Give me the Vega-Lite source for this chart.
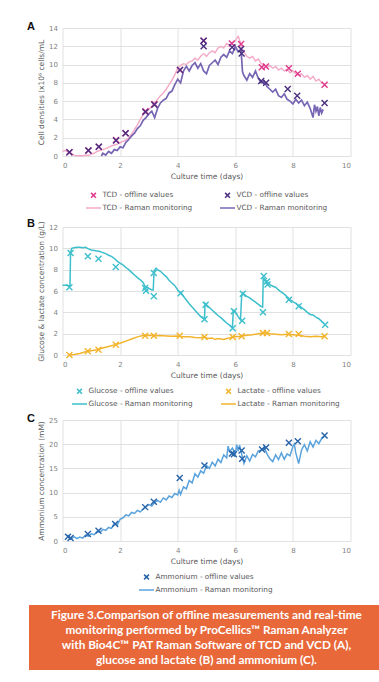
{
  "$schema": "https://vega.github.io/schema/vega-lite/v6.json",
  "background": "white",
  "padding": {"left": 12, "right": 12, "top": 21, "bottom": 5},
  "spacing": 5,
  "center": true,
  "resolve": {"scale": {"color": "independent", "shape": "independent"}, "legend": {"color": "independent", "shape": "independent"}},
  "config": {
    "font": "DejaVu Sans",
    "view": {"stroke": null},
    "axis": {"labelFontSize": 7, "labelColor": "#7f7f7f", "titleFontSize": 7.5, "titleColor": "#595959", "titleFontWeight": "normal", "gridColor": "#d9d9d9", "gridWidth": 0.8, "domain": false, "ticks": false, "labelPadding": 5, "titlePadding": 4},
    "axisY": {"titlePadding": 3, "titleLineHeight": 8.5},
    "legend": {"orient": "bottom", "direction": "horizontal", "columns": 2, "title": null, "symbolSize": 144, "symbolStrokeWidth": 1.5, "labelFontSize": 7.3, "labelColor": "#595959", "rowPadding": 0, "columnPadding": 24, "labelOffset": 2, "offset": 8, "layout": {"bottom": {"anchor": "middle"}}},
    "title": {"anchor": "start", "frame": "bounds", "fontSize": 11, "fontWeight": "bold", "font": "Liberation Sans", "color": "#111111", "offset": -8, "dx": 15}
  },
  "datasets": {
    "tcdR": [{"t":0,"v":0.5},{"t":0.1,"v":0.6},{"t":0.2,"v":0.4},{"t":0.3,"v":0.3},{"t":0.4,"v":0.1},{"t":0.5,"v":0.0},{"t":0.6,"v":0.05},{"t":0.7,"v":0.0},{"t":0.8,"v":0.1},{"t":0.9,"v":0.05},{"t":1.0,"v":0.2},{"t":1.1,"v":0.3},{"t":1.2,"v":0.5},{"t":1.3,"v":0.6},{"t":1.4,"v":0.7},{"t":1.5,"v":0.8},{"t":1.6,"v":0.95},{"t":1.7,"v":1.1},{"t":1.8,"v":1.2},{"t":1.9,"v":1.3},{"t":2.0,"v":1.45},{"t":2.1,"v":1.6},{"t":2.2,"v":1.75},{"t":2.3,"v":2.0},{"t":2.4,"v":2.4},{"t":2.5,"v":2.9},{"t":2.6,"v":3.4},{"t":2.7,"v":4.0},{"t":2.8,"v":4.5},{"t":2.9,"v":4.8},{"t":3.0,"v":5.1},{"t":3.1,"v":5.4},{"t":3.2,"v":5.8},{"t":3.3,"v":6.2},{"t":3.4,"v":6.6},{"t":3.5,"v":6.9},{"t":3.6,"v":7.3},{"t":3.7,"v":7.8},{"t":3.8,"v":8.3},{"t":3.9,"v":8.9},{"t":4.0,"v":9.6},{"t":4.1,"v":9.9},{"t":4.2,"v":10.1},{"t":4.3,"v":10.0},{"t":4.4,"v":10.3},{"t":4.5,"v":10.4},{"t":4.6,"v":10.7},{"t":4.7,"v":10.5},{"t":4.8,"v":10.9},{"t":4.9,"v":11.2},{"t":5.0,"v":10.9},{"t":5.1,"v":11.3},{"t":5.2,"v":11.5},{"t":5.3,"v":11.3},{"t":5.4,"v":11.8},{"t":5.5,"v":12.0},{"t":5.6,"v":11.8},{"t":5.7,"v":12.3},{"t":5.8,"v":12.1},{"t":5.9,"v":12.4},{"t":6.0,"v":12.6},{"t":6.1,"v":13.1},{"t":6.15,"v":12.7},{"t":6.2,"v":12.0},{"t":6.3,"v":11.4},{"t":6.4,"v":10.9},{"t":6.5,"v":10.7},{"t":6.6,"v":10.9},{"t":6.7,"v":10.4},{"t":6.8,"v":10.6},{"t":6.9,"v":10.1},{"t":7.0,"v":10.0},{"t":7.1,"v":9.7},{"t":7.2,"v":9.9},{"t":7.3,"v":9.6},{"t":7.4,"v":9.8},{"t":7.5,"v":9.4},{"t":7.6,"v":9.6},{"t":7.7,"v":9.3},{"t":7.8,"v":9.5},{"t":7.9,"v":9.1},{"t":8.0,"v":9.3},{"t":8.1,"v":9.0},{"t":8.2,"v":8.8},{"t":8.3,"v":9.0},{"t":8.4,"v":8.6},{"t":8.5,"v":8.8},{"t":8.6,"v":8.4},{"t":8.7,"v":8.7},{"t":8.8,"v":8.2},{"t":8.9,"v":8.4},{"t":9.0,"v":8.0},{"t":9.05,"v":8.1}],
    "vcdR": [{"t":1.35,"v":0.0},{"t":1.4,"v":0.3},{"t":1.5,"v":0.1},{"t":1.6,"v":0.5},{"t":1.7,"v":0.3},{"t":1.8,"v":0.7},{"t":1.9,"v":0.6},{"t":2.0,"v":1.0},{"t":2.1,"v":0.9},{"t":2.2,"v":1.5},{"t":2.3,"v":1.8},{"t":2.4,"v":2.2},{"t":2.5,"v":2.5},{"t":2.6,"v":3.0},{"t":2.7,"v":3.3},{"t":2.8,"v":3.9},{"t":2.9,"v":4.2},{"t":3.0,"v":4.6},{"t":3.1,"v":4.9},{"t":3.2,"v":4.2},{"t":3.3,"v":5.2},{"t":3.4,"v":5.8},{"t":3.5,"v":6.1},{"t":3.6,"v":6.3},{"t":3.7,"v":6.9},{"t":3.8,"v":7.1},{"t":3.9,"v":7.8},{"t":4.0,"v":8.4},{"t":4.1,"v":8.0},{"t":4.2,"v":9.3},{"t":4.3,"v":9.8},{"t":4.4,"v":9.3},{"t":4.5,"v":9.9},{"t":4.6,"v":10.2},{"t":4.7,"v":9.6},{"t":4.8,"v":10.1},{"t":4.9,"v":9.3},{"t":5.0,"v":9.0},{"t":5.1,"v":9.9},{"t":5.2,"v":10.2},{"t":5.3,"v":10.5},{"t":5.4,"v":10.0},{"t":5.5,"v":10.8},{"t":5.6,"v":11.1},{"t":5.7,"v":10.8},{"t":5.8,"v":11.5},{"t":5.9,"v":11.2},{"t":6.0,"v":12.0},{"t":6.1,"v":11.4},{"t":6.2,"v":11.6},{"t":6.25,"v":9.2},{"t":6.3,"v":8.8},{"t":6.4,"v":8.3},{"t":6.5,"v":9.0},{"t":6.6,"v":8.6},{"t":6.7,"v":9.3},{"t":6.8,"v":8.5},{"t":6.9,"v":8.0},{"t":7.0,"v":8.2},{"t":7.1,"v":7.6},{"t":7.2,"v":7.3},{"t":7.3,"v":7.0},{"t":7.4,"v":7.3},{"t":7.5,"v":6.6},{"t":7.6,"v":6.4},{"t":7.7,"v":6.8},{"t":7.8,"v":6.2},{"t":7.9,"v":6.0},{"t":8.0,"v":5.7},{"t":8.1,"v":6.2},{"t":8.2,"v":5.8},{"t":8.3,"v":6.1},{"t":8.4,"v":5.5},{"t":8.5,"v":5.9},{"t":8.6,"v":5.2},{"t":8.7,"v":4.2},{"t":8.75,"v":5.6},{"t":8.8,"v":4.9},{"t":8.85,"v":5.4},{"t":8.9,"v":4.4},{"t":8.95,"v":5.3},{"t":9.0,"v":4.7},{"t":9.05,"v":5.1}],
    "tcdO": [{"t":0.24,"v":0.4},{"t":0.9,"v":0.6},{"t":1.26,"v":1.0},{"t":1.86,"v":1.75},{"t":2.19,"v":2.5},{"t":2.88,"v":4.9},{"t":3.19,"v":5.7},{"t":4.08,"v":9.4},{"t":4.9,"v":12.6},{"t":5.88,"v":12.3},{"t":6.2,"v":12.25},{"t":6.92,"v":9.7},{"t":7.06,"v":9.8},{"t":7.86,"v":9.6},{"t":8.17,"v":9.0},{"t":9.1,"v":7.8}],
    "vcdO": [{"t":0.24,"v":0.4},{"t":0.9,"v":0.6},{"t":1.26,"v":1.0},{"t":1.86,"v":1.7},{"t":2.19,"v":2.5},{"t":2.88,"v":4.8},{"t":3.19,"v":5.6},{"t":4.08,"v":9.4},{"t":4.9,"v":12.6},{"t":4.9,"v":12.0},{"t":5.89,"v":11.9},{"t":6.2,"v":11.7},{"t":6.22,"v":11.2},{"t":6.9,"v":8.2},{"t":7.07,"v":8.0},{"t":7.82,"v":7.33},{"t":8.15,"v":6.6},{"t":9.1,"v":5.8}],
    "gluR": [{"t":0,"v":6.55},{"t":0.1,"v":6.55},{"t":0.2,"v":6.5},{"t":0.26,"v":6.5},{"t":0.28,"v":9.6},{"t":0.32,"v":10.0},{"t":0.4,"v":10.05},{"t":0.5,"v":10.1},{"t":0.6,"v":10.1},{"t":0.7,"v":10.05},{"t":0.8,"v":10.1},{"t":0.9,"v":9.95},{"t":1.0,"v":9.85},{"t":1.1,"v":9.8},{"t":1.2,"v":9.75},{"t":1.3,"v":9.7},{"t":1.4,"v":9.6},{"t":1.5,"v":9.5},{"t":1.6,"v":9.35},{"t":1.7,"v":9.25},{"t":1.8,"v":9.05},{"t":1.9,"v":8.8},{"t":2.0,"v":8.6},{"t":2.1,"v":8.45},{"t":2.2,"v":8.2},{"t":2.3,"v":8.0},{"t":2.4,"v":7.75},{"t":2.5,"v":7.5},{"t":2.6,"v":7.25},{"t":2.7,"v":7.05},{"t":2.8,"v":6.8},{"t":2.85,"v":6.5},{"t":2.9,"v":6.4},{"t":3.0,"v":6.25},{"t":3.1,"v":6.1},{"t":3.15,"v":6.1},{"t":3.18,"v":7.9},{"t":3.25,"v":8.15},{"t":3.3,"v":8.0},{"t":3.4,"v":7.85},{"t":3.5,"v":7.6},{"t":3.6,"v":7.35},{"t":3.7,"v":7.0},{"t":3.8,"v":6.75},{"t":3.9,"v":6.5},{"t":4.0,"v":6.1},{"t":4.1,"v":5.85},{"t":4.2,"v":5.5},{"t":4.3,"v":5.15},{"t":4.4,"v":4.8},{"t":4.5,"v":4.5},{"t":4.6,"v":4.2},{"t":4.7,"v":3.9},{"t":4.8,"v":3.6},{"t":4.9,"v":3.4},{"t":4.93,"v":3.35},{"t":4.95,"v":4.85},{"t":5.0,"v":4.7},{"t":5.1,"v":4.45},{"t":5.2,"v":4.2},{"t":5.3,"v":3.95},{"t":5.4,"v":3.7},{"t":5.5,"v":3.5},{"t":5.6,"v":3.25},{"t":5.7,"v":3.0},{"t":5.8,"v":2.8},{"t":5.9,"v":2.55},{"t":5.93,"v":4.2},{"t":6.0,"v":4.05},{"t":6.1,"v":3.6},{"t":6.18,"v":3.3},{"t":6.22,"v":5.5},{"t":6.26,"v":5.8},{"t":6.3,"v":5.7},{"t":6.4,"v":5.5},{"t":6.5,"v":5.35},{"t":6.6,"v":5.15},{"t":6.7,"v":4.95},{"t":6.8,"v":4.75},{"t":6.9,"v":4.55},{"t":6.95,"v":4.5},{"t":6.97,"v":7.2},{"t":7.0,"v":7.1},{"t":7.1,"v":6.75},{"t":7.2,"v":6.6},{"t":7.3,"v":6.45},{"t":7.4,"v":6.35},{"t":7.5,"v":6.1},{"t":7.6,"v":5.9},{"t":7.7,"v":5.7},{"t":7.8,"v":5.45},{"t":7.9,"v":5.2},{"t":8.0,"v":5.0},{"t":8.1,"v":4.85},{"t":8.2,"v":4.65},{"t":8.3,"v":4.45},{"t":8.4,"v":4.25},{"t":8.5,"v":4.0},{"t":8.6,"v":3.8},{"t":8.7,"v":3.75},{"t":8.8,"v":3.55},{"t":8.9,"v":3.4},{"t":9.0,"v":3.15},{"t":9.1,"v":2.9}],
    "lacR": [{"t":0.24,"v":0.0},{"t":0.4,"v":0.05},{"t":0.6,"v":0.15},{"t":0.8,"v":0.3},{"t":1.0,"v":0.4},{"t":1.2,"v":0.5},{"t":1.4,"v":0.65},{"t":1.6,"v":0.8},{"t":1.8,"v":0.95},{"t":2.0,"v":1.1},{"t":2.2,"v":1.3},{"t":2.4,"v":1.5},{"t":2.6,"v":1.7},{"t":2.8,"v":1.82},{"t":3.0,"v":1.85},{"t":3.2,"v":1.8},{"t":3.4,"v":1.82},{"t":3.6,"v":1.78},{"t":3.8,"v":1.75},{"t":4.0,"v":1.78},{"t":4.2,"v":1.72},{"t":4.4,"v":1.7},{"t":4.6,"v":1.65},{"t":4.8,"v":1.62},{"t":4.9,"v":1.7},{"t":5.0,"v":1.6},{"t":5.1,"v":1.55},{"t":5.2,"v":1.6},{"t":5.3,"v":1.45},{"t":5.4,"v":1.55},{"t":5.5,"v":1.5},{"t":5.6,"v":1.45},{"t":5.7,"v":1.55},{"t":5.8,"v":1.6},{"t":5.9,"v":1.68},{"t":6.0,"v":1.7},{"t":6.2,"v":1.75},{"t":6.4,"v":1.85},{"t":6.6,"v":1.9},{"t":6.8,"v":2.0},{"t":7.0,"v":2.08},{"t":7.2,"v":2.0},{"t":7.4,"v":1.95},{"t":7.6,"v":1.9},{"t":7.8,"v":1.95},{"t":8.0,"v":1.9},{"t":8.2,"v":1.85},{"t":8.4,"v":1.75},{"t":8.6,"v":1.7},{"t":8.8,"v":1.75},{"t":9.0,"v":1.72},{"t":9.1,"v":1.75}],
    "gluO": [{"t":0.24,"v":6.35},{"t":0.28,"v":9.56},{"t":0.88,"v":9.25},{"t":1.25,"v":9.03},{"t":1.85,"v":8.25},{"t":2.87,"v":6.28},{"t":2.9,"v":6.03},{"t":3.17,"v":5.5},{"t":3.17,"v":7.69},{"t":4.1,"v":5.8},{"t":4.93,"v":3.35},{"t":4.97,"v":4.72},{"t":5.91,"v":2.5},{"t":5.95,"v":4.1},{"t":6.24,"v":3.22},{"t":6.26,"v":5.75},{"t":6.96,"v":4.0},{"t":6.99,"v":7.4},{"t":7.1,"v":6.9},{"t":7.12,"v":6.6},{"t":7.86,"v":5.19},{"t":8.2,"v":4.56},{"t":9.12,"v":2.84}],
    "lacO": [{"t":0.24,"v":0.0},{"t":0.88,"v":0.35},{"t":1.25,"v":0.5},{"t":1.85,"v":0.97},{"t":2.87,"v":1.81},{"t":3.17,"v":1.81},{"t":4.07,"v":1.8},{"t":4.93,"v":1.69},{"t":5.91,"v":1.69},{"t":6.22,"v":1.75},{"t":6.96,"v":2.06},{"t":7.1,"v":2.06},{"t":7.86,"v":1.97},{"t":8.2,"v":1.97},{"t":9.1,"v":1.75}],
    "ammR": [{"t":0.2,"v":1.0},{"t":0.3,"v":0.4},{"t":0.4,"v":0.9},{"t":0.5,"v":0.5},{"t":0.6,"v":0.8},{"t":0.7,"v":0.6},{"t":0.8,"v":1.2},{"t":0.9,"v":1.0},{"t":1.0,"v":1.5},{"t":1.1,"v":1.3},{"t":1.2,"v":2.0},{"t":1.3,"v":1.8},{"t":1.4,"v":2.4},{"t":1.5,"v":2.2},{"t":1.6,"v":2.8},{"t":1.7,"v":2.6},{"t":1.8,"v":3.6},{"t":1.9,"v":3.3},{"t":2.0,"v":4.5},{"t":2.1,"v":4.8},{"t":2.2,"v":5.4},{"t":2.3,"v":5.2},{"t":2.4,"v":5.9},{"t":2.5,"v":5.7},{"t":2.6,"v":6.3},{"t":2.7,"v":6.0},{"t":2.8,"v":6.6},{"t":2.9,"v":7.1},{"t":3.0,"v":7.5},{"t":3.1,"v":7.2},{"t":3.2,"v":8.0},{"t":3.3,"v":8.4},{"t":3.4,"v":8.0},{"t":3.5,"v":8.9},{"t":3.6,"v":8.5},{"t":3.7,"v":9.3},{"t":3.8,"v":9.0},{"t":3.9,"v":9.8},{"t":4.0,"v":9.5},{"t":4.05,"v":10.5},{"t":4.1,"v":9.6},{"t":4.2,"v":11.2},{"t":4.3,"v":10.8},{"t":4.4,"v":12.5},{"t":4.5,"v":12.0},{"t":4.6,"v":13.9},{"t":4.7,"v":13.2},{"t":4.8,"v":14.5},{"t":4.9,"v":14.0},{"t":5.0,"v":15.6},{"t":5.1,"v":15.0},{"t":5.2,"v":16.3},{"t":5.3,"v":15.5},{"t":5.4,"v":16.9},{"t":5.5,"v":16.2},{"t":5.6,"v":17.8},{"t":5.7,"v":17.2},{"t":5.75,"v":19.6},{"t":5.8,"v":18.5},{"t":5.9,"v":19.2},{"t":6.0,"v":18.0},{"t":6.05,"v":19.9},{"t":6.1,"v":18.6},{"t":6.15,"v":19.8},{"t":6.25,"v":17.2},{"t":6.3,"v":16.0},{"t":6.4,"v":17.6},{"t":6.5,"v":16.5},{"t":6.6,"v":17.9},{"t":6.7,"v":17.4},{"t":6.8,"v":18.6},{"t":6.9,"v":18.8},{"t":7.0,"v":19.4},{"t":7.1,"v":18.0},{"t":7.2,"v":17.0},{"t":7.3,"v":16.4},{"t":7.4,"v":17.8},{"t":7.5,"v":16.8},{"t":7.6,"v":18.2},{"t":7.7,"v":16.9},{"t":7.8,"v":18.0},{"t":7.9,"v":17.6},{"t":8.0,"v":19.5},{"t":8.05,"v":20.0},{"t":8.1,"v":18.2},{"t":8.2,"v":16.0},{"t":8.3,"v":18.8},{"t":8.4,"v":19.9},{"t":8.5,"v":18.6},{"t":8.6,"v":20.5},{"t":8.7,"v":19.4},{"t":8.8,"v":20.8},{"t":8.9,"v":20.1},{"t":9.0,"v":21.2},{"t":9.1,"v":21.6}],
    "ammO": [{"t":0.19,"v":0.9},{"t":0.28,"v":0.6},{"t":0.88,"v":1.45},{"t":1.25,"v":2.1},{"t":1.83,"v":3.5},{"t":2.87,"v":7.0},{"t":3.17,"v":8.1},{"t":4.07,"v":13.0},{"t":4.93,"v":15.6},{"t":5.88,"v":18.1},{"t":5.95,"v":17.9},{"t":6.22,"v":18.7},{"t":6.24,"v":17.0},{"t":6.93,"v":18.9},{"t":7.07,"v":19.3},{"t":7.86,"v":20.3},{"t":8.17,"v":20.6},{"t":9.1,"v":21.8}],
    "caption": [{"n":1,"line":"Figure 3.Comparison of offline measurements and real-time"},{"n":2,"line":"monitoring performed by ProCellics™ Raman Analyzer"},{"n":3,"line":"with Bio4C™ PAT Raman Software of TCD and VCD (A),"},{"n":4,"line":"glucose and lactate (B) and ammonium (C)."}]
  },
  "vconcat": [
    {
      "width": 288, "height": 128,
      "title": {"text": "A"},
      "encoding": {
        "x": {"field": "t", "type": "quantitative", "scale": {"domain": [0, 10], "nice": false}, "axis": {"title": "Culture time (days)", "values": [0, 2, 4, 6, 8, 10]}},
        "y": {"field": "v", "type": "quantitative", "scale": {"domain": [0, 14], "nice": false}, "axis": {"title": ["\u200b", "\u200b", "\u200b", "Cell densities (x10⁶ cells/mL"], "values": [0, 2, 4, 6, 8, 10, 12, 14]}}
      },
      "layer": [
        {"data": {"name": "tcdR"}, "mark": {"type": "line", "strokeWidth": 1.4}, "encoding": {"color": {"datum": "TCD - Raman monitoring", "type": "nominal", "scale": {"domain": ["TCD - offline values", "VCD - offline values", "TCD - Raman monitoring", "VCD - Raman monitoring"], "range": ["#e0388c", "#4a2f80", "#f4a9c7", "#7766b4"]}}}},
        {"data": {"name": "vcdR"}, "mark": {"type": "line", "strokeWidth": 1.7}, "encoding": {"color": {"datum": "VCD - Raman monitoring", "type": "nominal"}}},
        {"data": {"name": "tcdO"}, "mark": {"type": "point", "filled": false, "size": 225, "strokeWidth": 1.4, "opacity": 1}, "encoding": {"color": {"datum": "TCD - offline values", "type": "nominal"}, "shape": {"datum": "TCD - offline values", "type": "nominal", "scale": {"domain": ["TCD - offline values", "VCD - offline values", "TCD - Raman monitoring", "VCD - Raman monitoring"], "range": ["M-0.4,-0.4L0.4,0.4M-0.4,0.4L0.4,-0.4", "M-0.4,-0.4L0.4,0.4M-0.4,0.4L0.4,-0.4", "M-1.25,0L1.25,0", "M-1.25,0L1.25,0"]}}}},
        {"data": {"name": "vcdO"}, "mark": {"type": "point", "filled": false, "size": 225, "strokeWidth": 1.4, "opacity": 1}, "encoding": {"color": {"datum": "VCD - offline values", "type": "nominal"}, "shape": {"datum": "VCD - offline values", "type": "nominal"}}}
      ]
    },
    {
      "width": 288, "height": 128,
      "title": {"text": "B"},
      "encoding": {
        "x": {"field": "t", "type": "quantitative", "scale": {"domain": [0, 10], "nice": false}, "axis": {"title": "Culture time (days)", "values": [0, 2, 4, 6, 8, 10]}},
        "y": {"field": "v", "type": "quantitative", "scale": {"domain": [0, 12], "nice": false}, "axis": {"title": ["\u200b", "\u200b", "\u200b", "Glucose & lactate concentration (g/L)"], "values": [0, 2, 4, 6, 8, 10, 12]}}
      },
      "layer": [
        {"data": {"name": "gluR"}, "mark": {"type": "line", "strokeWidth": 1.5}, "encoding": {"color": {"datum": "Glucose - Raman monitoring", "type": "nominal", "scale": {"domain": ["Glucose - offline values", "Lactate - offline values", "Glucose - Raman monitoring", "Lactate - Raman monitoring"], "range": ["#3dbfcc", "#f2b42c", "#3dbfcc", "#f2b42c"]}, "legend": {"offset": 5}}}},
        {"data": {"name": "lacR"}, "mark": {"type": "line", "strokeWidth": 1.5}, "encoding": {"color": {"datum": "Lactate - Raman monitoring", "type": "nominal", "legend": {"offset": 5}}}},
        {"data": {"name": "gluO"}, "mark": {"type": "point", "filled": false, "size": 225, "strokeWidth": 1.4, "opacity": 1}, "encoding": {"color": {"datum": "Glucose - offline values", "type": "nominal", "legend": {"offset": 5}}, "shape": {"datum": "Glucose - offline values", "type": "nominal", "scale": {"domain": ["Glucose - offline values", "Lactate - offline values", "Glucose - Raman monitoring", "Lactate - Raman monitoring"], "range": ["M-0.4,-0.4L0.4,0.4M-0.4,0.4L0.4,-0.4", "M-0.4,-0.4L0.4,0.4M-0.4,0.4L0.4,-0.4", "M-1.25,0L1.25,0", "M-1.25,0L1.25,0"]}, "legend": {"offset": 5}}}},
        {"data": {"name": "lacO"}, "mark": {"type": "point", "filled": false, "size": 225, "strokeWidth": 1.4, "opacity": 1}, "encoding": {"color": {"datum": "Lactate - offline values", "type": "nominal", "legend": {"offset": 5}}, "shape": {"datum": "Lactate - offline values", "type": "nominal", "legend": {"offset": 5}}}}
      ]
    },
    {
      "width": 288, "height": 121,
      "title": {"text": "C"},
      "encoding": {
        "x": {"field": "t", "type": "quantitative", "scale": {"domain": [0, 10], "nice": false}, "axis": {"title": "Culture time (days)", "values": [0, 2, 4, 6, 8, 10]}},
        "y": {"field": "v", "type": "quantitative", "scale": {"domain": [0, 25], "nice": false}, "axis": {"title": ["\u200b", "\u200b", "\u200b", "Ammonium concentration (mM)"], "values": [0, 5, 10, 15, 20, 25]}}
      },
      "layer": [
        {"data": {"name": "ammR"}, "mark": {"type": "line", "strokeWidth": 1.5}, "encoding": {"color": {"datum": "Ammonium - Raman monitoring", "type": "nominal", "scale": {"domain": ["Ammonium - offline values", "Ammonium - Raman monitoring"], "range": ["#2763a9", "#5ba3dc"]}, "legend": {"columns": 1, "offset": -1, "padding": 6}}}},
        {"data": {"name": "ammO"}, "mark": {"type": "point", "filled": false, "size": 225, "strokeWidth": 1.4, "opacity": 1}, "encoding": {"color": {"datum": "Ammonium - offline values", "type": "nominal", "legend": {"columns": 1, "offset": -1, "padding": 6}}, "shape": {"datum": "Ammonium - offline values", "type": "nominal", "scale": {"domain": ["Ammonium - offline values", "Ammonium - Raman monitoring"], "range": ["M-0.4,-0.4L0.4,0.4M-0.4,0.4L0.4,-0.4", "M-1.25,0L1.25,0"]}, "legend": {"columns": 1, "offset": -1, "padding": 6}}}}
      ]
    },
    {
      "width": 355, "height": 65,
      "view": {"fill": "#e8683a", "stroke": null},
      "data": {"name": "caption"},
      "mark": {"type": "text", "font": "Lato", "fontWeight": "bold", "fontSize": 11.8, "color": "white", "baseline": "middle"},
      "encoding": {
        "y": {"field": "n", "type": "ordinal", "scale": {"type": "point", "padding": 0.71}, "axis": null},
        "text": {"field": "line"}
      }
    }
  ]
}
